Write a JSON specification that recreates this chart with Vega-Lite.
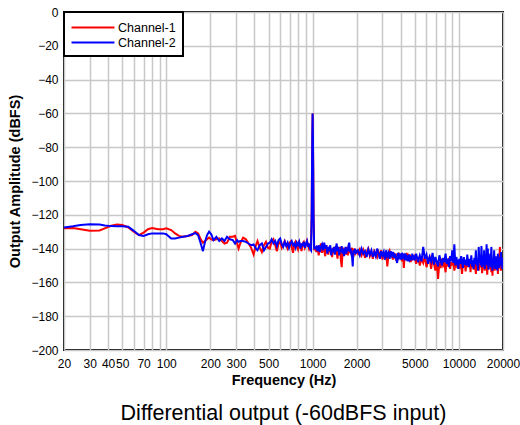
{
  "$schema": "https://vega.github.io/schema/vega-lite/v6.json",
  "autosize": "none",
  "width": 439,
  "height": 338,
  "padding": {"left": 64, "top": 12, "right": 17, "bottom": 75},
  "background": "white",
  "config": {
    "font": "Liberation Sans",
    "view": {"stroke": "black", "strokeWidth": 2},
    "axis": {
      "labelFont": "Liberation Sans", "labelFontSize": 12, "labelColor": "black",
      "titleFont": "Liberation Sans", "titleFontSize": 14.5, "titleFontWeight": "bold", "titleColor": "black",
      "gridColor": "#c8c8c8", "gridWidth": 1.5, "gridOpacity": 1,
      "ticks": false, "domain": false
    }
  },
  "title": {
    "text": "Differential output (-60dBFS input)",
    "orient": "bottom", "anchor": "middle", "fontSize": 21.5, "fontWeight": "normal",
    "font": "Liberation Sans", "color": "black", "offset": 16
  },
  "data": {"values": [
    {"f":20,"Channel-1":-128,"Channel-2":-127.5},
    {"f":23,"Channel-1":-127.8,"Channel-2":-126.8},
    {"f":26,"Channel-1":-128.5,"Channel-2":-126},
    {"f":30,"Channel-1":-129.5,"Channel-2":-125.6},
    {"f":35,"Channel-1":-129.3,"Channel-2":-125.8},
    {"f":38,"Channel-1":-128,"Channel-2":-126.3},
    {"f":42,"Channel-1":-126.5,"Channel-2":-126.7},
    {"f":46,"Channel-1":-125.8,"Channel-2":-126.8},
    {"f":50,"Channel-1":-126,"Channel-2":-126.8},
    {"f":55,"Channel-1":-127.5,"Channel-2":-127},
    {"f":60,"Channel-1":-130,"Channel-2":-129.5},
    {"f":65,"Channel-1":-132,"Channel-2":-132},
    {"f":70,"Channel-1":-130.5,"Channel-2":-132.5},
    {"f":75,"Channel-1":-128.5,"Channel-2":-131.5},
    {"f":80,"Channel-1":-127.8,"Channel-2":-131},
    {"f":88,"Channel-1":-128.5,"Channel-2":-131},
    {"f":95,"Channel-1":-128.5,"Channel-2":-131},
    {"f":100,"Channel-1":-128,"Channel-2":-131.5},
    {"f":108,"Channel-1":-129,"Channel-2":-134},
    {"f":115,"Channel-1":-131,"Channel-2":-134},
    {"f":122,"Channel-1":-132.5,"Channel-2":-133.5},
    {"f":130,"Channel-1":-133,"Channel-2":-133},
    {"f":140,"Channel-1":-132.5,"Channel-2":-132.5},
    {"f":150,"Channel-1":-132,"Channel-2":-131.5},
    {"f":158,"Channel-1":-130,"Channel-2":-130.8},
    {"f":165,"Channel-1":-131,"Channel-2":-132},
    {"f":172,"Channel-1":-134.5,"Channel-2":-137},
    {"f":178,"Channel-1":-136.5,"Channel-2":-141.5},
    {"f":184,"Channel-1":-135.5,"Channel-2":-136},
    {"f":190,"Channel-1":-134.5,"Channel-2":-132},
    {"f":196,"Channel-1":-133.5,"Channel-2":-130},
    {"f":203,"Channel-1":-134.5,"Channel-2":-131.5},
    {"f":210,"Channel-1":-135,"Channel-2":-135},
    {"f":220,"Channel-1":-134.5,"Channel-2":-133},
    {"f":230,"Channel-1":-134,"Channel-2":-135.5},
    {"f":240,"Channel-1":-135.5,"Channel-2":-134},
    {"f":250,"Channel-1":-137,"Channel-2":-135.5},
    {"f":260,"Channel-1":-136.5,"Channel-2":-133},
    {"f":272,"Channel-1":-133,"Channel-2":-134.5},
    {"f":285,"Channel-1":-133,"Channel-2":-135},
    {"f":295,"Channel-1":-132.5,"Channel-2":-137},
    {"f":305,"Channel-1":-137,"Channel-2":-135},
    {"f":312,"Channel-1":-140,"Channel-2":-136},
    {"f":320,"Channel-1":-137,"Channel-2":-135.5},
    {"f":335,"Channel-1":-133.5,"Channel-2":-135.5},
    {"f":350,"Channel-1":-134.5,"Channel-2":-136},
    {"f":365,"Channel-1":-137,"Channel-2":-137},
    {"f":380,"Channel-1":-139.5,"Channel-2":-138},
    {"f":395,"Channel-1":-143.5,"Channel-2":-137.5},
    {"f":410,"Channel-1":-138,"Channel-2":-140},
    {"f":420,"Channel-1":-135.5,"Channel-2":-141},
    {"f":435,"Channel-1":-139.5,"Channel-2":-138},
    {"f":450,"Channel-1":-142,"Channel-2":-137},
    {"f":465,"Channel-1":-138,"Channel-2":-141},
    {"f":480,"Channel-1":-136,"Channel-2":-139},
    {"f":495,"Channel-1":-139.5,"Channel-2":-137},
    {"f":510,"Channel-1":-140,"Channel-2":-136.5},
    {"f":525,"Channel-1":-136,"Channel-2":-134.5},
    {"f":540,"Channel-1":-134.5,"Channel-2":-137},
    {"f":555,"Channel-1":-138,"Channel-2":-135.5},
    {"f":570,"Channel-1":-141.5,"Channel-2":-138.5},
    {"f":585,"Channel-1":-137,"Channel-2":-135},
    {"f":600,"Channel-1":-136,"Channel-2":-134},
    {"f":615,"Channel-1":-139.5,"Channel-2":-137.5},
    {"f":630,"Channel-1":-137.5,"Channel-2":-139},
    {"f":645,"Channel-1":-135.5,"Channel-2":-136},
    {"f":660,"Channel-1":-138,"Channel-2":-138.5},
    {"f":675,"Channel-1":-140,"Channel-2":-136.5},
    {"f":690,"Channel-1":-137,"Channel-2":-139.5},
    {"f":705,"Channel-1":-136,"Channel-2":-137},
    {"f":720,"Channel-1":-139,"Channel-2":-135.5},
    {"f":735,"Channel-1":-142.5,"Channel-2":-138},
    {"f":750,"Channel-1":-137.5,"Channel-2":-137},
    {"f":765,"Channel-1":-136,"Channel-2":-139.5},
    {"f":780,"Channel-1":-138.5,"Channel-2":-136.5},
    {"f":795,"Channel-1":-140.5,"Channel-2":-138},
    {"f":810,"Channel-1":-136.5,"Channel-2":-136},
    {"f":825,"Channel-1":-138,"Channel-2":-140},
    {"f":840,"Channel-1":-141.5,"Channel-2":-137.5},
    {"f":855,"Channel-1":-137,"Channel-2":-138},
    {"f":870,"Channel-1":-136,"Channel-2":-136},
    {"f":885,"Channel-1":-139.5,"Channel-2":-139.5},
    {"f":900,"Channel-1":-138,"Channel-2":-137},
    {"f":915,"Channel-1":-135.5,"Channel-2":-135.5},
    {"f":930,"Channel-1":-137.5,"Channel-2":-139},
    {"f":945,"Channel-1":-140,"Channel-2":-137},
    {"f":960,"Channel-1":-138,"Channel-2":-140},
    {"f":975,"Channel-1":-137,"Channel-2":-141},
    {"f":985,"Channel-1":-120,"Channel-2":-122},
    {"f":990,"Channel-1":-95,"Channel-2":-97},
    {"f":995,"Channel-1":-75,"Channel-2":-74},
    {"f":1000,"Channel-1":-60,"Channel-2":-60},
    {"f":1005,"Channel-1":-75,"Channel-2":-74},
    {"f":1010,"Channel-1":-95,"Channel-2":-97},
    {"f":1015,"Channel-1":-120,"Channel-2":-122},
    {"f":1025,"Channel-1":-141,"Channel-2":-140},
    {"f":1040,"Channel-1":-139,"Channel-2":-140},
    {"f":1060,"Channel-1":-142,"Channel-2":-139},
    {"f":1080,"Channel-1":-138.5,"Channel-2":-141.5},
    {"f":1100,"Channel-1":-144,"Channel-2":-138},
    {"f":1120,"Channel-1":-140,"Channel-2":-142},
    {"f":1140,"Channel-1":-137,"Channel-2":-139},
    {"f":1160,"Channel-1":-142.5,"Channel-2":-137.5},
    {"f":1180,"Channel-1":-139,"Channel-2":-141},
    {"f":1200,"Channel-1":-141,"Channel-2":-136.5},
    {"f":1220,"Channel-1":-144.5,"Channel-2":-140},
    {"f":1240,"Channel-1":-138,"Channel-2":-138},
    {"f":1260,"Channel-1":-141,"Channel-2":-143},
    {"f":1280,"Channel-1":-143.5,"Channel-2":-139},
    {"f":1300,"Channel-1":-139,"Channel-2":-141.5},
    {"f":1320,"Channel-1":-142,"Channel-2":-138},
    {"f":1340,"Channel-1":-140,"Channel-2":-144},
    {"f":1360,"Channel-1":-145,"Channel-2":-140},
    {"f":1380,"Channel-1":-139.5,"Channel-2":-142},
    {"f":1400,"Channel-1":-141,"Channel-2":-139},
    {"f":1420,"Channel-1":-143,"Channel-2":-143.5},
    {"f":1440,"Channel-1":-138.5,"Channel-2":-140},
    {"f":1460,"Channel-1":-142,"Channel-2":-137},
    {"f":1480,"Channel-1":-146,"Channel-2":-141.5},
    {"f":1500,"Channel-1":-140,"Channel-2":-139},
    {"f":1520,"Channel-1":-142.5,"Channel-2":-144},
    {"f":1540,"Channel-1":-139,"Channel-2":-140.5},
    {"f":1560,"Channel-1":-147,"Channel-2":-142},
    {"f":1580,"Channel-1":-151,"Channel-2":-138.5},
    {"f":1600,"Channel-1":-143,"Channel-2":-143},
    {"f":1620,"Channel-1":-139.5,"Channel-2":-140},
    {"f":1640,"Channel-1":-142,"Channel-2":-144.5},
    {"f":1660,"Channel-1":-140,"Channel-2":-141},
    {"f":1680,"Channel-1":-143.5,"Channel-2":-139},
    {"f":1700,"Channel-1":-141,"Channel-2":-143},
    {"f":1720,"Channel-1":-139,"Channel-2":-140},
    {"f":1740,"Channel-1":-144,"Channel-2":-141.5},
    {"f":1760,"Channel-1":-141,"Channel-2":-138},
    {"f":1780,"Channel-1":-142.5,"Channel-2":-136.5},
    {"f":1800,"Channel-1":-140,"Channel-2":-142},
    {"f":1820,"Channel-1":-143,"Channel-2":-140},
    {"f":1840,"Channel-1":-141,"Channel-2":-143.5},
    {"f":1860,"Channel-1":-139.5,"Channel-2":-145},
    {"f":1880,"Channel-1":-144,"Channel-2":-150.5},
    {"f":1900,"Channel-1":-142,"Channel-2":-141},
    {"f":1920,"Channel-1":-140,"Channel-2":-143},
    {"f":1950,"Channel-1":-143,"Channel-2":-140},
    {"f":1980,"Channel-1":-141.5,"Channel-2":-142.5},
    {"f":2040,"Channel-1":-143,"Channel-2":-141},
    {"f":2100,"Channel-1":-140.5,"Channel-2":-144},
    {"f":2160,"Channel-1":-144,"Channel-2":-140},
    {"f":2220,"Channel-1":-141,"Channel-2":-143},
    {"f":2280,"Channel-1":-145.5,"Channel-2":-141.5},
    {"f":2340,"Channel-1":-142,"Channel-2":-145},
    {"f":2400,"Channel-1":-140,"Channel-2":-140.5},
    {"f":2460,"Channel-1":-144.5,"Channel-2":-143.5},
    {"f":2520,"Channel-1":-142,"Channel-2":-141},
    {"f":2580,"Channel-1":-146,"Channel-2":-145},
    {"f":2640,"Channel-1":-141.5,"Channel-2":-142},
    {"f":2700,"Channel-1":-143,"Channel-2":-144.5},
    {"f":2760,"Channel-1":-145,"Channel-2":-140},
    {"f":2820,"Channel-1":-142,"Channel-2":-143},
    {"f":2880,"Channel-1":-144,"Channel-2":-146},
    {"f":2940,"Channel-1":-141,"Channel-2":-141.5},
    {"f":3000,"Channel-1":-146.5,"Channel-2":-144},
    {"f":3060,"Channel-1":-143,"Channel-2":-142},
    {"f":3120,"Channel-1":-145,"Channel-2":-146.5},
    {"f":3180,"Channel-1":-142,"Channel-2":-141},
    {"f":3240,"Channel-1":-150.5,"Channel-2":-144.5},
    {"f":3300,"Channel-1":-143.5,"Channel-2":-142.5},
    {"f":3360,"Channel-1":-141.5,"Channel-2":-146},
    {"f":3420,"Channel-1":-145,"Channel-2":-141.5},
    {"f":3480,"Channel-1":-143,"Channel-2":-144},
    {"f":3540,"Channel-1":-146.5,"Channel-2":-142},
    {"f":3600,"Channel-1":-142.5,"Channel-2":-145.5},
    {"f":3660,"Channel-1":-144.5,"Channel-2":-143},
    {"f":3720,"Channel-1":-147,"Channel-2":-146},
    {"f":3780,"Channel-1":-143,"Channel-2":-148.5},
    {"f":3840,"Channel-1":-145,"Channel-2":-142.5},
    {"f":3900,"Channel-1":-142.5,"Channel-2":-145},
    {"f":3960,"Channel-1":-146,"Channel-2":-143},
    {"f":4020,"Channel-1":-144,"Channel-2":-146.5},
    {"f":4080,"Channel-1":-147.5,"Channel-2":-142.5},
    {"f":4140,"Channel-1":-143,"Channel-2":-145},
    {"f":4200,"Channel-1":-151.5,"Channel-2":-144},
    {"f":4260,"Channel-1":-144,"Channel-2":-147},
    {"f":4320,"Channel-1":-146,"Channel-2":-143},
    {"f":4380,"Channel-1":-142.5,"Channel-2":-145.5},
    {"f":4440,"Channel-1":-147,"Channel-2":-144},
    {"f":4500,"Channel-1":-144.5,"Channel-2":-147.5},
    {"f":4560,"Channel-1":-146,"Channel-2":-143.5},
    {"f":4620,"Channel-1":-143.5,"Channel-2":-146},
    {"f":4680,"Channel-1":-148,"Channel-2":-144.5},
    {"f":4740,"Channel-1":-145,"Channel-2":-147},
    {"f":4800,"Channel-1":-147,"Channel-2":-143},
    {"f":4860,"Channel-1":-144,"Channel-2":-146.5},
    {"f":4920,"Channel-1":-146.5,"Channel-2":-144},
    {"f":4980,"Channel-1":-145,"Channel-2":-147},
    {"f":5100,"Channel-1":-149,"Channel-2":-143},
    {"f":5250,"Channel-1":-145,"Channel-2":-148},
    {"f":5400,"Channel-1":-150,"Channel-2":-144},
    {"f":5550,"Channel-1":-146,"Channel-2":-147.5},
    {"f":5700,"Channel-1":-148.5,"Channel-2":-139},
    {"f":5850,"Channel-1":-144.5,"Channel-2":-146},
    {"f":6000,"Channel-1":-151,"Channel-2":-143.5},
    {"f":6150,"Channel-1":-147,"Channel-2":-149},
    {"f":6300,"Channel-1":-145,"Channel-2":-145},
    {"f":6450,"Channel-1":-152,"Channel-2":-147.5},
    {"f":6600,"Channel-1":-146.5,"Channel-2":-142.5},
    {"f":6750,"Channel-1":-149,"Channel-2":-149.5},
    {"f":6900,"Channel-1":-153,"Channel-2":-145},
    {"f":7050,"Channel-1":-147,"Channel-2":-148},
    {"f":7200,"Channel-1":-158,"Channel-2":-150.5},
    {"f":7350,"Channel-1":-148,"Channel-2":-144},
    {"f":7500,"Channel-1":-151.5,"Channel-2":-147},
    {"f":7650,"Channel-1":-146,"Channel-2":-150},
    {"f":7800,"Channel-1":-150,"Channel-2":-145.5},
    {"f":7950,"Channel-1":-148.5,"Channel-2":-148},
    {"f":8100,"Channel-1":-154,"Channel-2":-143},
    {"f":8250,"Channel-1":-147,"Channel-2":-149},
    {"f":8400,"Channel-1":-150.5,"Channel-2":-146},
    {"f":8550,"Channel-1":-145.5,"Channel-2":-151},
    {"f":8700,"Channel-1":-152,"Channel-2":-144.5},
    {"f":8850,"Channel-1":-148,"Channel-2":-147.5},
    {"f":9000,"Channel-1":-150,"Channel-2":-141},
    {"f":9150,"Channel-1":-146.5,"Channel-2":-148.5},
    {"f":9300,"Channel-1":-153,"Channel-2":-137.5},
    {"f":9450,"Channel-1":-149,"Channel-2":-150},
    {"f":9600,"Channel-1":-147,"Channel-2":-145},
    {"f":9750,"Channel-1":-151.5,"Channel-2":-148},
    {"f":9900,"Channel-1":-148,"Channel-2":-152},
    {"f":10050,"Channel-1":-152,"Channel-2":-146},
    {"f":10200,"Channel-1":-146.5,"Channel-2":-149},
    {"f":10350,"Channel-1":-150,"Channel-2":-144.5},
    {"f":10500,"Channel-1":-155,"Channel-2":-148},
    {"f":10650,"Channel-1":-148,"Channel-2":-151.5},
    {"f":10800,"Channel-1":-151,"Channel-2":-145},
    {"f":10950,"Channel-1":-147,"Channel-2":-149.5},
    {"f":11100,"Channel-1":-153.5,"Channel-2":-146.5},
    {"f":11250,"Channel-1":-149,"Channel-2":-150},
    {"f":11400,"Channel-1":-151,"Channel-2":-143.5},
    {"f":11550,"Channel-1":-146,"Channel-2":-148},
    {"f":11700,"Channel-1":-150.5,"Channel-2":-151},
    {"f":11850,"Channel-1":-148,"Channel-2":-146},
    {"f":12000,"Channel-1":-154,"Channel-2":-149},
    {"f":12150,"Channel-1":-147.5,"Channel-2":-144},
    {"f":12300,"Channel-1":-151,"Channel-2":-150.5},
    {"f":12450,"Channel-1":-149,"Channel-2":-147},
    {"f":12600,"Channel-1":-152.5,"Channel-2":-152},
    {"f":12750,"Channel-1":-147,"Channel-2":-145.5},
    {"f":12900,"Channel-1":-150,"Channel-2":-149},
    {"f":13050,"Channel-1":-155,"Channel-2":-141},
    {"f":13200,"Channel-1":-148,"Channel-2":-150},
    {"f":13350,"Channel-1":-151.5,"Channel-2":-146},
    {"f":13500,"Channel-1":-147,"Channel-2":-153},
    {"f":13650,"Channel-1":-153,"Channel-2":-139},
    {"f":13800,"Channel-1":-149,"Channel-2":-148.5},
    {"f":13950,"Channel-1":-151,"Channel-2":-144},
    {"f":14100,"Channel-1":-146.5,"Channel-2":-150},
    {"f":14250,"Channel-1":-150,"Channel-2":-138.5},
    {"f":14400,"Channel-1":-154.5,"Channel-2":-151},
    {"f":14550,"Channel-1":-148,"Channel-2":-146},
    {"f":14700,"Channel-1":-151,"Channel-2":-149.5},
    {"f":14850,"Channel-1":-147,"Channel-2":-141},
    {"f":15000,"Channel-1":-153,"Channel-2":-152},
    {"f":15150,"Channel-1":-149.5,"Channel-2":-145},
    {"f":15300,"Channel-1":-151,"Channel-2":-148.5},
    {"f":15450,"Channel-1":-147.5,"Channel-2":-137.5},
    {"f":15600,"Channel-1":-155.5,"Channel-2":-150},
    {"f":15750,"Channel-1":-149,"Channel-2":-140},
    {"f":15900,"Channel-1":-151,"Channel-2":-152.5},
    {"f":16050,"Channel-1":-146.5,"Channel-2":-145},
    {"f":16200,"Channel-1":-152,"Channel-2":-149},
    {"f":16350,"Channel-1":-148.5,"Channel-2":-143},
    {"f":16500,"Channel-1":-150,"Channel-2":-151},
    {"f":16650,"Channel-1":-154,"Channel-2":-139},
    {"f":16800,"Channel-1":-148,"Channel-2":-148},
    {"f":16950,"Channel-1":-156,"Channel-2":-153},
    {"f":17100,"Channel-1":-149,"Channel-2":-146},
    {"f":17250,"Channel-1":-151,"Channel-2":-150.5},
    {"f":17400,"Channel-1":-147,"Channel-2":-141},
    {"f":17550,"Channel-1":-153,"Channel-2":-149},
    {"f":17700,"Channel-1":-149.5,"Channel-2":-152},
    {"f":17850,"Channel-1":-151,"Channel-2":-144.5},
    {"f":18000,"Channel-1":-146,"Channel-2":-150},
    {"f":18150,"Channel-1":-152.5,"Channel-2":-146},
    {"f":18300,"Channel-1":-148,"Channel-2":-153},
    {"f":18450,"Channel-1":-155,"Channel-2":-143},
    {"f":18600,"Channel-1":-149,"Channel-2":-149.5},
    {"f":18750,"Channel-1":-151.5,"Channel-2":-147},
    {"f":18900,"Channel-1":-145,"Channel-2":-151.5},
    {"f":19050,"Channel-1":-139,"Channel-2":-145},
    {"f":19200,"Channel-1":-150,"Channel-2":-149},
    {"f":19350,"Channel-1":-153,"Channel-2":-142},
    {"f":19500,"Channel-1":-148,"Channel-2":-150},
    {"f":19650,"Channel-1":-151,"Channel-2":-145.5},
    {"f":19800,"Channel-1":-146,"Channel-2":-152},
    {"f":19950,"Channel-1":-150,"Channel-2":-147}
  ]},
  "transform": [{"fold": ["Channel-1", "Channel-2"], "as": ["channel", "value"]}],
  "mark": {"type": "line", "strokeWidth": 2, "clip": true},
  "encoding": {
    "x": {
      "field": "f", "type": "quantitative",
      "scale": {"type": "log", "domain": [20, 20000], "nice": false},
      "axis": {
        "title": "Frequency (Hz)",
        "values": [20,30,40,50,60,70,80,90,100,200,300,400,500,600,700,800,900,1000,2000,3000,4000,5000,6000,7000,8000,9000,10000,20000],
        "labelExpr": "indexof([20,30,40,50,70,100,200,300,500,1000,2000,5000,10000,20000], datum.value) >= 0 ? format(datum.value, 'd') : ''",
        "labelOverlap": false, "labelFlush": false, "labelPadding": 8, "titlePadding": 4
      }
    },
    "y": {
      "field": "value", "type": "quantitative",
      "scale": {"domain": [-200, 0], "nice": false},
      "axis": {
        "title": "Output Amplitude (dBFS)",
        "values": [-200,-180,-160,-140,-120,-100,-80,-60,-40,-20,0],
        "labelPadding": 6, "titlePadding": 8, "labelFlush": false
      }
    },
    "color": {
      "field": "channel", "type": "nominal",
      "scale": {"domain": ["Channel-1", "Channel-2"], "range": ["#ff0000", "#0000ff"]},
      "legend": {
        "title": null, "orient": "top-left", "offset": 0,
        "fillColor": "white", "strokeColor": "black",
        "padding": 7, "symbolType": "M-3,0H3", "symbolSize": 205, "symbolStrokeWidth": 2,
        "symbolOffset": 13.5,
        "labelFontSize": 12.5, "labelFont": "Liberation Sans", "labelColor": "black",
        "rowPadding": -3, "labelOffset": 16.5,
        "encode": {"legend": {"update": {"strokeWidth": {"value": 2}}}}
      }
    }
  }
}
